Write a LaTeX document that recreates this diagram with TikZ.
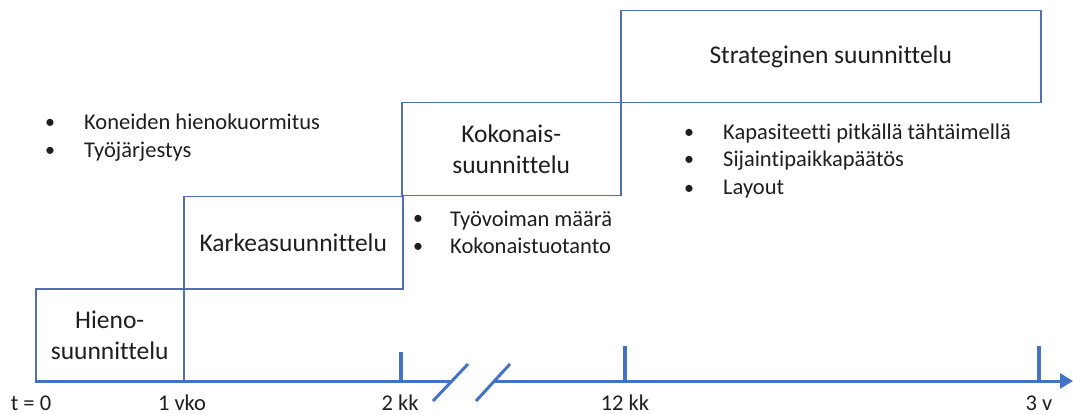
\documentclass[tikz,border=0pt]{standalone}
\usepackage{fontspec}
\setmainfont{Carlito}[Ligatures=NoCommon]
\usetikzlibrary{arrows.meta}
\definecolor{boxc}{RGB}{80,112,178}
\definecolor{axisc}{RGB}{68,114,196}
\definecolor{txtc}{RGB}{30,30,30}
\tikzset{
  planbox/.style={draw=boxc, line width=1.5pt, inner sep=0pt, anchor=north west,
    align=center, text=txtc, font=\fontsize{25.5}{31}\selectfont},
  bul/.style={anchor=base west, inner sep=0pt, text=txtc, font=\fontsize{22.5}{27}\selectfont},
  dot/.style={anchor=base, inner sep=0pt, text=txtc, font=\fontsize{20}{27}\selectfont},
  lbl/.style={anchor=base, inner sep=0pt, text=txtc, font=\fontsize{22.5}{27}\selectfont},
  axisline/.style={draw=axisc, line width=3pt},
  tickline/.style={draw=axisc, line width=3.5pt},
}
\begin{document}
\begin{tikzpicture}[x=1pt,y=1pt]
\useasboundingbox (0,0) rectangle (1073,-414);
% boxes
\node[planbox, minimum width=148pt, minimum height=93pt] (hieno) at (35,-288) {Hieno-\\suunnittelu};
\node[planbox, minimum width=219pt, minimum height=92pt] (karkea) at (183,-196) {Karkeasuunnittelu};
\node[planbox, minimum width=219pt, minimum height=93pt] (kokon) at (401,-102) {Kokonais-\\suunnittelu};
\node[planbox, minimum width=420pt, minimum height=92pt] (strat) at (620,-10) {Strateginen suunnittelu};
% bullets
\node[dot] (d1a) at (50,-129) {•};
\node[bul] (t1a) at (84,-130) {Koneiden hienokuormitus};
\node[dot] (d1b) at (50,-157) {•};
\node[bul] (t1b) at (84,-158) {Työjärjestys};
\node[dot] (d2a) at (418,-225) {•};
\node[bul] (t2a) at (450,-226) {Työvoiman määrä};
\node[dot] (d2b) at (418,-252) {•};
\node[bul] (t2b) at (450,-253) {Kokonaistuotanto};
\node[dot] (d3a) at (689,-139) {•};
\node[bul] (t3a) at (723,-140) {Kapasiteetti pitkällä tähtäimellä};
\node[dot] (d3b) at (689,-166) {•};
\node[bul] (t3b) at (723,-167) {Sijaintipaikkapäätös};
\node[dot] (d3c) at (689,-194) {•};
\node[bul] (t3c) at (723,-195) {Layout};
% axis
\coordinate (a0) at (35,-381);
\coordinate (a1) at (451,-381);
\coordinate (a2) at (493,-381);
\coordinate (a3) at (1073,-381);
\draw[axisline] (a0) -- (a1);
\draw[axisline, -{Triangle[length=13pt,width=15pt]}] (a2) -- (a3);
% break marks
\coordinate (k1s) at (433,-401); \coordinate (k1e) at (468,-364);
\coordinate (k2s) at (476,-401); \coordinate (k2e) at (510,-364);
\draw[tickline, line width=3pt] (k1s) -- (k1e);
\draw[tickline, line width=3pt] (k2s) -- (k2e);
% ticks
\coordinate (tk1t) at (401,-352); \coordinate (tk1b) at (401,-381);
\coordinate (tk2t) at (625,-346); \coordinate (tk2b) at (625,-381);
\coordinate (tk3t) at (1039,-346); \coordinate (tk3b) at (1039,-381);
\draw[tickline] (tk1t) -- (tk1b);
\draw[tickline] (tk2t) -- (tk2b);
\draw[tickline] (tk3t) -- (tk3b);
% labels
\node[lbl] (l0) at (31,-410) {t = 0};
\node[lbl] (l1) at (182,-410) {1 vko};
\node[lbl] (l2) at (400,-410) {2 kk};
\node[lbl] (l3) at (625,-410) {12 kk};
\node[lbl] (l4) at (1039,-410) {3 v};
\end{tikzpicture}
\end{document}
